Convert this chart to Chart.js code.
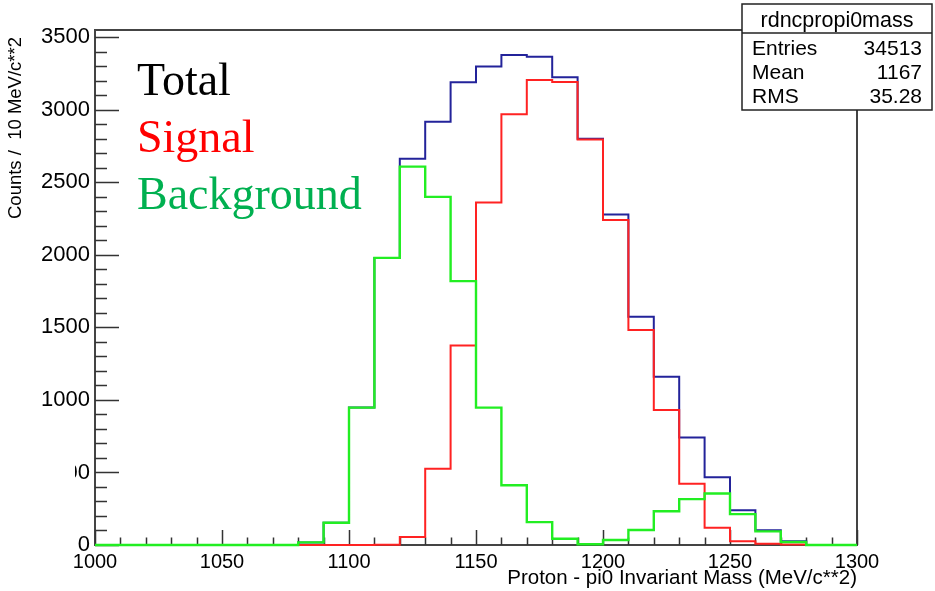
<!DOCTYPE html>
<html>
<head>
<meta charset="utf-8">
<title>rdncpropi0mass</title>
<script src="https://cdn.jsdelivr.net/npm/chart.js@4.4.1/dist/chart.umd.min.js"></script>
<style>
  html, body { margin: 0; padding: 0; background: #fff; }
  #wrap { width: 935px; height: 591px; }
</style>
</head>
<body>
<div id="wrap"><canvas id="chart1" width="935" height="591"></canvas></div>
<script>
// lower edge of each 10 MeV/c**2 bin, last edge closes the histogram
const binLow = [1000, 1010, 1020, 1030, 1040, 1050, 1060, 1070, 1080, 1090,
                1100, 1110, 1120, 1130, 1140, 1150, 1160, 1170, 1180, 1190,
                1200, 1210, 1220, 1230, 1240, 1250, 1260, 1270, 1280, 1290];
const binTop = 1300;

// counts per bin
const total = [0, 0, 0, 0, 0, 0, 0, 0, 18, 153,
               947, 1979, 2663, 2917, 3189, 3299, 3377, 3365, 3224, 2800,
               2279, 1574, 1160, 741, 467, 240, 102, 25, 0, 0];
const signal = [0, 0, 0, 0, 0, 0, 0, 0, 0, 0,
                0, 2, 55, 526, 1375, 2361, 2970, 3205, 3191, 2795,
                2240, 1482, 931, 423, 119, 25, 8, 4, 0, 0];
const background = [0, 0, 0, 0, 0, 0, 0, 0, 18, 153,
                    947, 1979, 2608, 2400, 1819, 947, 412, 158, 43, 5,
                    34, 103, 233, 316, 355, 213, 94, 21, 0, 0];

const xTickLabels = [1000, 1050, 1100, 1150, 1200, 1250, 1300];
const yTickLabels = [0, 500, 1000, 1500, 2000, 2500, 3000, 3500];
const yMax = 3550;

const legendLabels = ['Total', 'Signal', 'Background'];
const legendColors = ['#000000', '#ff0000', '#00b050'];
const statsTitle = 'rdncpropi0mass';
const statsNames = ['Entries', 'Mean', 'RMS'];
const statsValues = ['34513', '1167', '35.28'];
const yTitle = 'Counts /  10 MeV/c**2';
const xTitle = 'Proton - pi0 Invariant Mass (MeV/c**2)';

const sans = '"Liberation Sans", Arial, Helvetica, sans-serif';

function histPoints(vals) {
  const pts = binLow.map((x, i) => ({ x: x, y: vals[i] }));
  pts.push({ x: binTop, y: vals[vals.length - 1] });
  return pts;
}

function histDataset(label, vals, color, width, order) {
  return {
    label: label,
    data: histPoints(vals),
    stepped: 'before',
    borderColor: color,
    borderWidth: width,
    pointRadius: 0,
    fill: false,
    clip: 4,
    order: order
  };
}

// ROOT style frame, inward ticks, text and stats box
const rootPlugin = {
  id: 'rootPlugin',
  beforeDraw(chart) {
    const ctx = chart.ctx;
    ctx.save();
    ctx.fillStyle = '#fff';
    ctx.fillRect(0, 0, chart.width, chart.height);
    ctx.restore();
  },
  beforeDatasetsDraw(chart) {
    const ctx = chart.ctx;
    const a = chart.chartArea;
    const xs = chart.scales.x;
    const ys = chart.scales.y;
    ctx.save();
    ctx.strokeStyle = '#444';
    ctx.lineWidth = 2;
    ctx.strokeRect(a.left, a.top, a.right - a.left, a.bottom - a.top);
    ctx.lineWidth = 1.5;
    ctx.strokeStyle = '#333';
    ctx.beginPath();
    for (let v = 0; v <= 3500; v += 100) {
      const py = Math.round(ys.getPixelForValue(v)) + 0.5;
      const len = v % 500 === 0 ? 24 : 12;
      ctx.moveTo(a.left, py);
      ctx.lineTo(a.left + len, py);
    }
    for (let v = 1000; v <= 1300; v += 10) {
      const px = Math.round(xs.getPixelForValue(v)) + 0.5;
      const len = v % 50 === 0 ? 15 : 7.5;
      ctx.moveTo(px, a.bottom);
      ctx.lineTo(px, a.bottom - len);
    }
    ctx.stroke();
    ctx.restore();
  },
  afterDraw(chart) {
    const ctx = chart.ctx;
    const ys = chart.scales.y;
    ctx.save();

    // the leading "5" of 500 is hidden in the original
    const p500 = ys.getPixelForValue(500);
    ctx.fillStyle = '#fff';
    ctx.fillRect(40, p500 - 13, 35, 26);

    // y axis title, right aligned near the top of the axis
    ctx.save();
    ctx.translate(16, 37);
    ctx.rotate(-Math.PI / 2);
    ctx.fillStyle = '#000';
    ctx.font = '18.5px ' + sans;
    ctx.textAlign = 'right';
    ctx.textBaseline = 'middle';
    ctx.fillText(yTitle, 0, 0);
    ctx.restore();

    ctx.font = '46px "Liberation Serif", "Times New Roman", serif';
    ctx.textAlign = 'left';
    ctx.textBaseline = 'alphabetic';
    legendLabels.forEach((t, i) => {
      ctx.fillStyle = legendColors[i];
      ctx.fillText(t, 137, 95 + i * 57);
    });

    // stats box
    const bx = 742, by = 4, bw = 190, bh = 106;
    ctx.fillStyle = '#fff';
    ctx.fillRect(bx, by, bw, bh);
    ctx.strokeStyle = '#222';
    ctx.lineWidth = 1.5;
    ctx.strokeRect(bx, by, bw, bh);
    ctx.beginPath();
    ctx.moveTo(bx, 33);
    ctx.lineTo(bx + bw, 33);
    ctx.stroke();
    ctx.fillStyle = '#000';
    ctx.font = '21.5px ' + sans;
    ctx.textAlign = 'center';
    ctx.fillText(statsTitle, bx + bw / 2, 27);
    ctx.font = '21px ' + sans;
    statsNames.forEach((n, i) => {
      const yy = 55 + i * 24;
      ctx.textAlign = 'left';
      ctx.fillText(n, bx + 10, yy);
      ctx.textAlign = 'right';
      ctx.fillText(statsValues[i], bx + bw - 10, yy);
    });
    ctx.restore();
  }
};

const chart1 = new Chart(document.getElementById('chart1'), {
  type: 'line',
  data: {
    datasets: [
      histDataset('Background', background, '#22ee22', 2.4, 1),
      histDataset('Signal', signal, '#ff2222', 2, 2),
      histDataset('Total', total, '#23239a', 2, 3)
    ]
  },
  options: {
    responsive: false,
    animation: false,
    layout: { padding: { top: 30, right: 78, left: 0, bottom: 0 } },
    plugins: { legend: { display: false }, tooltip: { enabled: false } },
    scales: {
      x: {
        type: 'linear',
        min: 1000,
        max: 1300,
        grid: { display: false, drawTicks: false },
        border: { display: false },
        afterBuildTicks(scale) { scale.ticks = xTickLabels.map(v => ({ value: v })); },
        ticks: { autoSkip: false, maxRotation: 0, padding: 5,
                 callback: v => String(v),
                 color: '#000', font: { family: sans, size: 20 } },
        title: { display: true, text: xTitle, align: 'end',
                 color: '#000', font: { family: sans, size: 20.5 }, padding: 0 },
        afterFit(scale) { scale.height = 46; }
      },
      y: {
        type: 'linear',
        min: 0,
        max: yMax,
        grid: { display: false, drawTicks: false },
        border: { display: false },
        afterBuildTicks(scale) { scale.ticks = yTickLabels.map(v => ({ value: v })); },
        ticks: { padding: 5, callback: v => String(v),
                 color: '#000', font: { family: sans, size: 22 } },
        afterFit(scale) { scale.width = 95; }
      }
    }
  },
  plugins: [rootPlugin]
});
</script>
</body>
</html>
